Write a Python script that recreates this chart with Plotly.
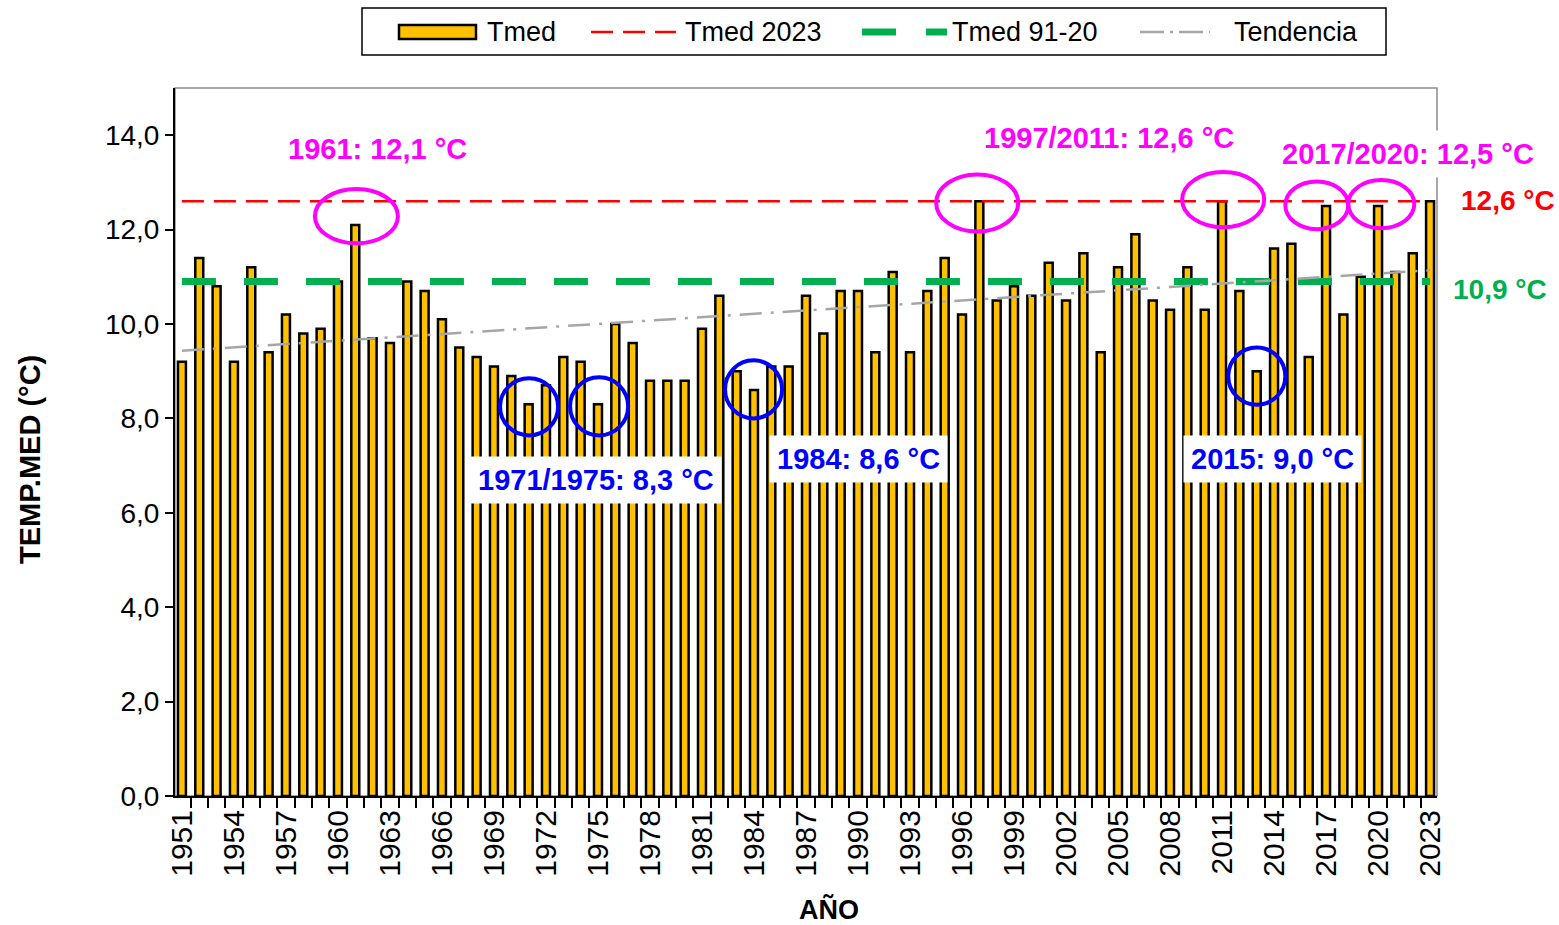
import numpy as np
import plotly.graph_objects as go

years = list(range(1951, 2024))
tmed = [9.2, 11.4, 10.8, 9.2, 11.2, 9.4, 10.2, 9.8, 9.9, 10.9,
        12.1, 9.7, 9.6, 10.9, 10.7, 10.1, 9.5, 9.3, 9.1, 8.9,
        8.3, 8.7, 9.3, 9.2, 8.3, 10.0, 9.6, 8.8, 8.8, 8.8,
        9.9, 10.6, 9.0, 8.6, 9.1, 9.1, 10.6, 9.8, 10.7, 10.7,
        9.4, 11.1, 9.4, 10.7, 11.4, 10.2, 12.6, 10.5, 10.8, 10.6,
        11.3, 10.5, 11.5, 9.4, 11.2, 11.9, 10.5, 10.3, 11.2, 10.3,
        12.6, 10.7, 9.0, 11.6, 11.7, 9.3, 12.5, 10.2, 11.0, 12.5,
        11.1, 11.5, 12.6]
tmed_2023 = 12.6
tmed_9120 = 10.9
tick_years = list(range(1951, 2024, 3))
tick_labels = [str(y) for y in tick_years]
y_ticks = [0, 2, 4, 6, 8, 10, 12, 14]
legend_names = ["Tmed", "Tmed 2023", "Tmed 91-20", "Tendencia"]

FONT = "Liberation Sans, Arial, sans-serif"
MAGENTA = "#FF00FF"
BLUE = "#0000FF"
RED = "#FF0000"
GREEN = "#00B050"
GOLD = "#FFC000"
GRAY = "#A6A6A6"

W, H = 1559, 925
L, R, T, B = 175, 1437, 88, 796     # plot area in page pixels


def px(x):
    return (x - L) / (R - L)


def py(y):
    return (B - y) / (B - T)


coef = np.polyfit(years, tmed, 1)
trend = list(np.polyval(coef, years))

fig = go.Figure()
fig.add_trace(go.Bar(x=years, y=tmed, name=legend_names[0], width=0.46,
                     marker=dict(color=GOLD, line=dict(color="black", width=2.5))))
fig.add_trace(go.Scatter(x=years, y=[tmed_2023] * len(years), name=legend_names[1], mode="lines",
                         line=dict(color=RED, width=2.5, dash="22px,10px")))
fig.add_trace(go.Scatter(x=years, y=[tmed_9120] * len(years), name=legend_names[2], mode="lines",
                         line=dict(color=GREEN, width=7, dash="34px,28px")))
fig.add_trace(go.Scatter(x=years, y=trend, name=legend_names[3], mode="lines",
                         line=dict(color=GRAY, width=2.5, dash="22px,9px,3px,9px")))

# ellipses (x0, x1, y0, y1, color)
ellipses = [
    (1958.67, 1963.46, 11.71, 12.86, MAGENTA),
    (1994.51, 1999.24, 11.96, 13.17, MAGENTA),
    (2008.70, 2013.43, 12.05, 13.22, MAGENTA),
    (2014.65, 2018.28, 12.01, 13.02, MAGENTA),
    (2018.28, 2022.09, 12.03, 13.05, MAGENTA),
    (1969.35, 1972.70, 7.64, 8.85, BLUE),
    (1973.39, 1976.74, 7.64, 8.87, BLUE),
    (1982.33, 1985.62, 8.00, 9.23, BLUE),
    (2011.36, 2014.65, 8.29, 9.50, BLUE),
]
for x0, x1, y0, y1, c in ellipses:
    fig.add_shape(type="circle", xref="x", yref="y", x0=x0, x1=x1, y0=y0, y1=y1,
                  line=dict(color=c, width=4), layer="above")

# plot frame
fig.add_shape(type="rect", xref="paper", yref="paper", x0=0, x1=1, y0=0, y1=1,
              line=dict(color="#8C8C8C", width=1.5), layer="below")

ann_font = dict(family=FONT, size=29)
labels = [
    (1962.3, 13.70, "<b>1961: 12,1 °C</b>", MAGENTA, None),
    (2004.5, 13.94, "<b>1997/2011: 12,6 °C</b>", MAGENTA, None),
    (2021.7, 13.60, "<b>2017/2020: 12,5 °C</b>", MAGENTA, "white"),
    (1974.9, 6.70, "<b>1971/1975: 8,3 °C</b>", BLUE, "white"),
    (1990.0, 7.15, "<b>1984: 8,6 °C</b>", BLUE, "white"),
    (2013.9, 7.15, "<b>2015: 9,0 °C</b>", BLUE, "white"),
]
for x, y, t, c, bg in labels:
    fig.add_annotation(x=x, y=y, xref="x", yref="y", text=t, showarrow=False,
                       xanchor="center", yanchor="middle",
                       font=dict(color=c, **ann_font),
                       bgcolor=bg if bg else "rgba(0,0,0,0)", borderpad=7)


def paper_text(x, y, text, size, color, xanchor="center", angle=0, yref="paper"):
    fig.add_annotation(x=x, y=y, xref="paper", yref=yref, text=text, showarrow=False,
                       xanchor=xanchor, yanchor="middle", textangle=angle, borderpad=0,
                       font=dict(family=FONT, size=size, color=color))


paper_text(px(1508), 12.62, "<b>12,6 °C</b>", 28, RED, yref="y")
paper_text(px(1500), 10.73, "<b>10,9 °C</b>", 28, GREEN, yref="y")
paper_text(px(829), py(909), "<b>AÑO</b>", 27, "black")
paper_text(px(30), py(460), "<b>TEMP.MED (°C)</b>", 29, "black", angle=-90)

# manual legend (box, samples, texts)
fig.add_shape(type="rect", xref="paper", yref="paper", x0=px(362), x1=px(1386), y0=py(55), y1=py(8),
              line=dict(color="black", width=1.5), fillcolor="white")
ly = py(32)
fig.add_shape(type="rect", xref="paper", yref="paper", x0=px(399), x1=px(476), y0=py(39), y1=py(25),
              line=dict(color="black", width=2.5), fillcolor=GOLD)
fig.add_shape(type="line", xref="paper", yref="paper", x0=px(591), x1=px(676), y0=ly, y1=ly,
              line=dict(color=RED, width=2.5, dash="22px,10px"))
fig.add_shape(type="line", xref="paper", yref="paper", x0=px(862), x1=px(947), y0=ly, y1=ly,
              line=dict(color=GREEN, width=7, dash="34px,30px"))
fig.add_shape(type="line", xref="paper", yref="paper", x0=px(1140), x1=px(1210), y0=ly, y1=ly,
              line=dict(color=GRAY, width=2.5, dash="24px,6px,3px,6px"))
for xt, name in zip([486, 684, 951, 1233], legend_names):
    paper_text(px(xt), ly, name, 27, "black", xanchor="left")

fig.update_layout(
    width=W, height=H,
    margin=dict(l=L, r=W - R, t=T, b=H - B, autoexpand=False),
    paper_bgcolor="white", plot_bgcolor="white",
    separators=",.",
    font=dict(family=FONT, color="black"),
    showlegend=False,
)
fig.update_xaxes(range=[1950.6, 2023.4], tickvals=tick_years, ticktext=tick_labels,
                 tickangle=-90, ticks="", tickfont=dict(size=30, family=FONT), automargin=False,
                 showline=True, linecolor="black", linewidth=2, showgrid=False, zeroline=False,
                 minor=dict(tickvals=[y + 0.5 for y in years[:-1]], ticks="outside",
                            ticklen=10, tickcolor="black", tickwidth=1.5, showgrid=False))
fig.update_yaxes(range=[0, 15], tickvals=y_ticks, tickformat=".1f", ticks="outside",
                 ticklen=8, tickwidth=1.5, tickcolor="black", automargin=False,
                 tickfont=dict(size=28, family=FONT),
                 showline=True, linecolor="black", linewidth=2, showgrid=False, zeroline=False)

fig.write_html("out.html", config={"displayModeBar": False},
               post_script="document.body.style.margin='0';document.body.style.overflow='hidden';")
